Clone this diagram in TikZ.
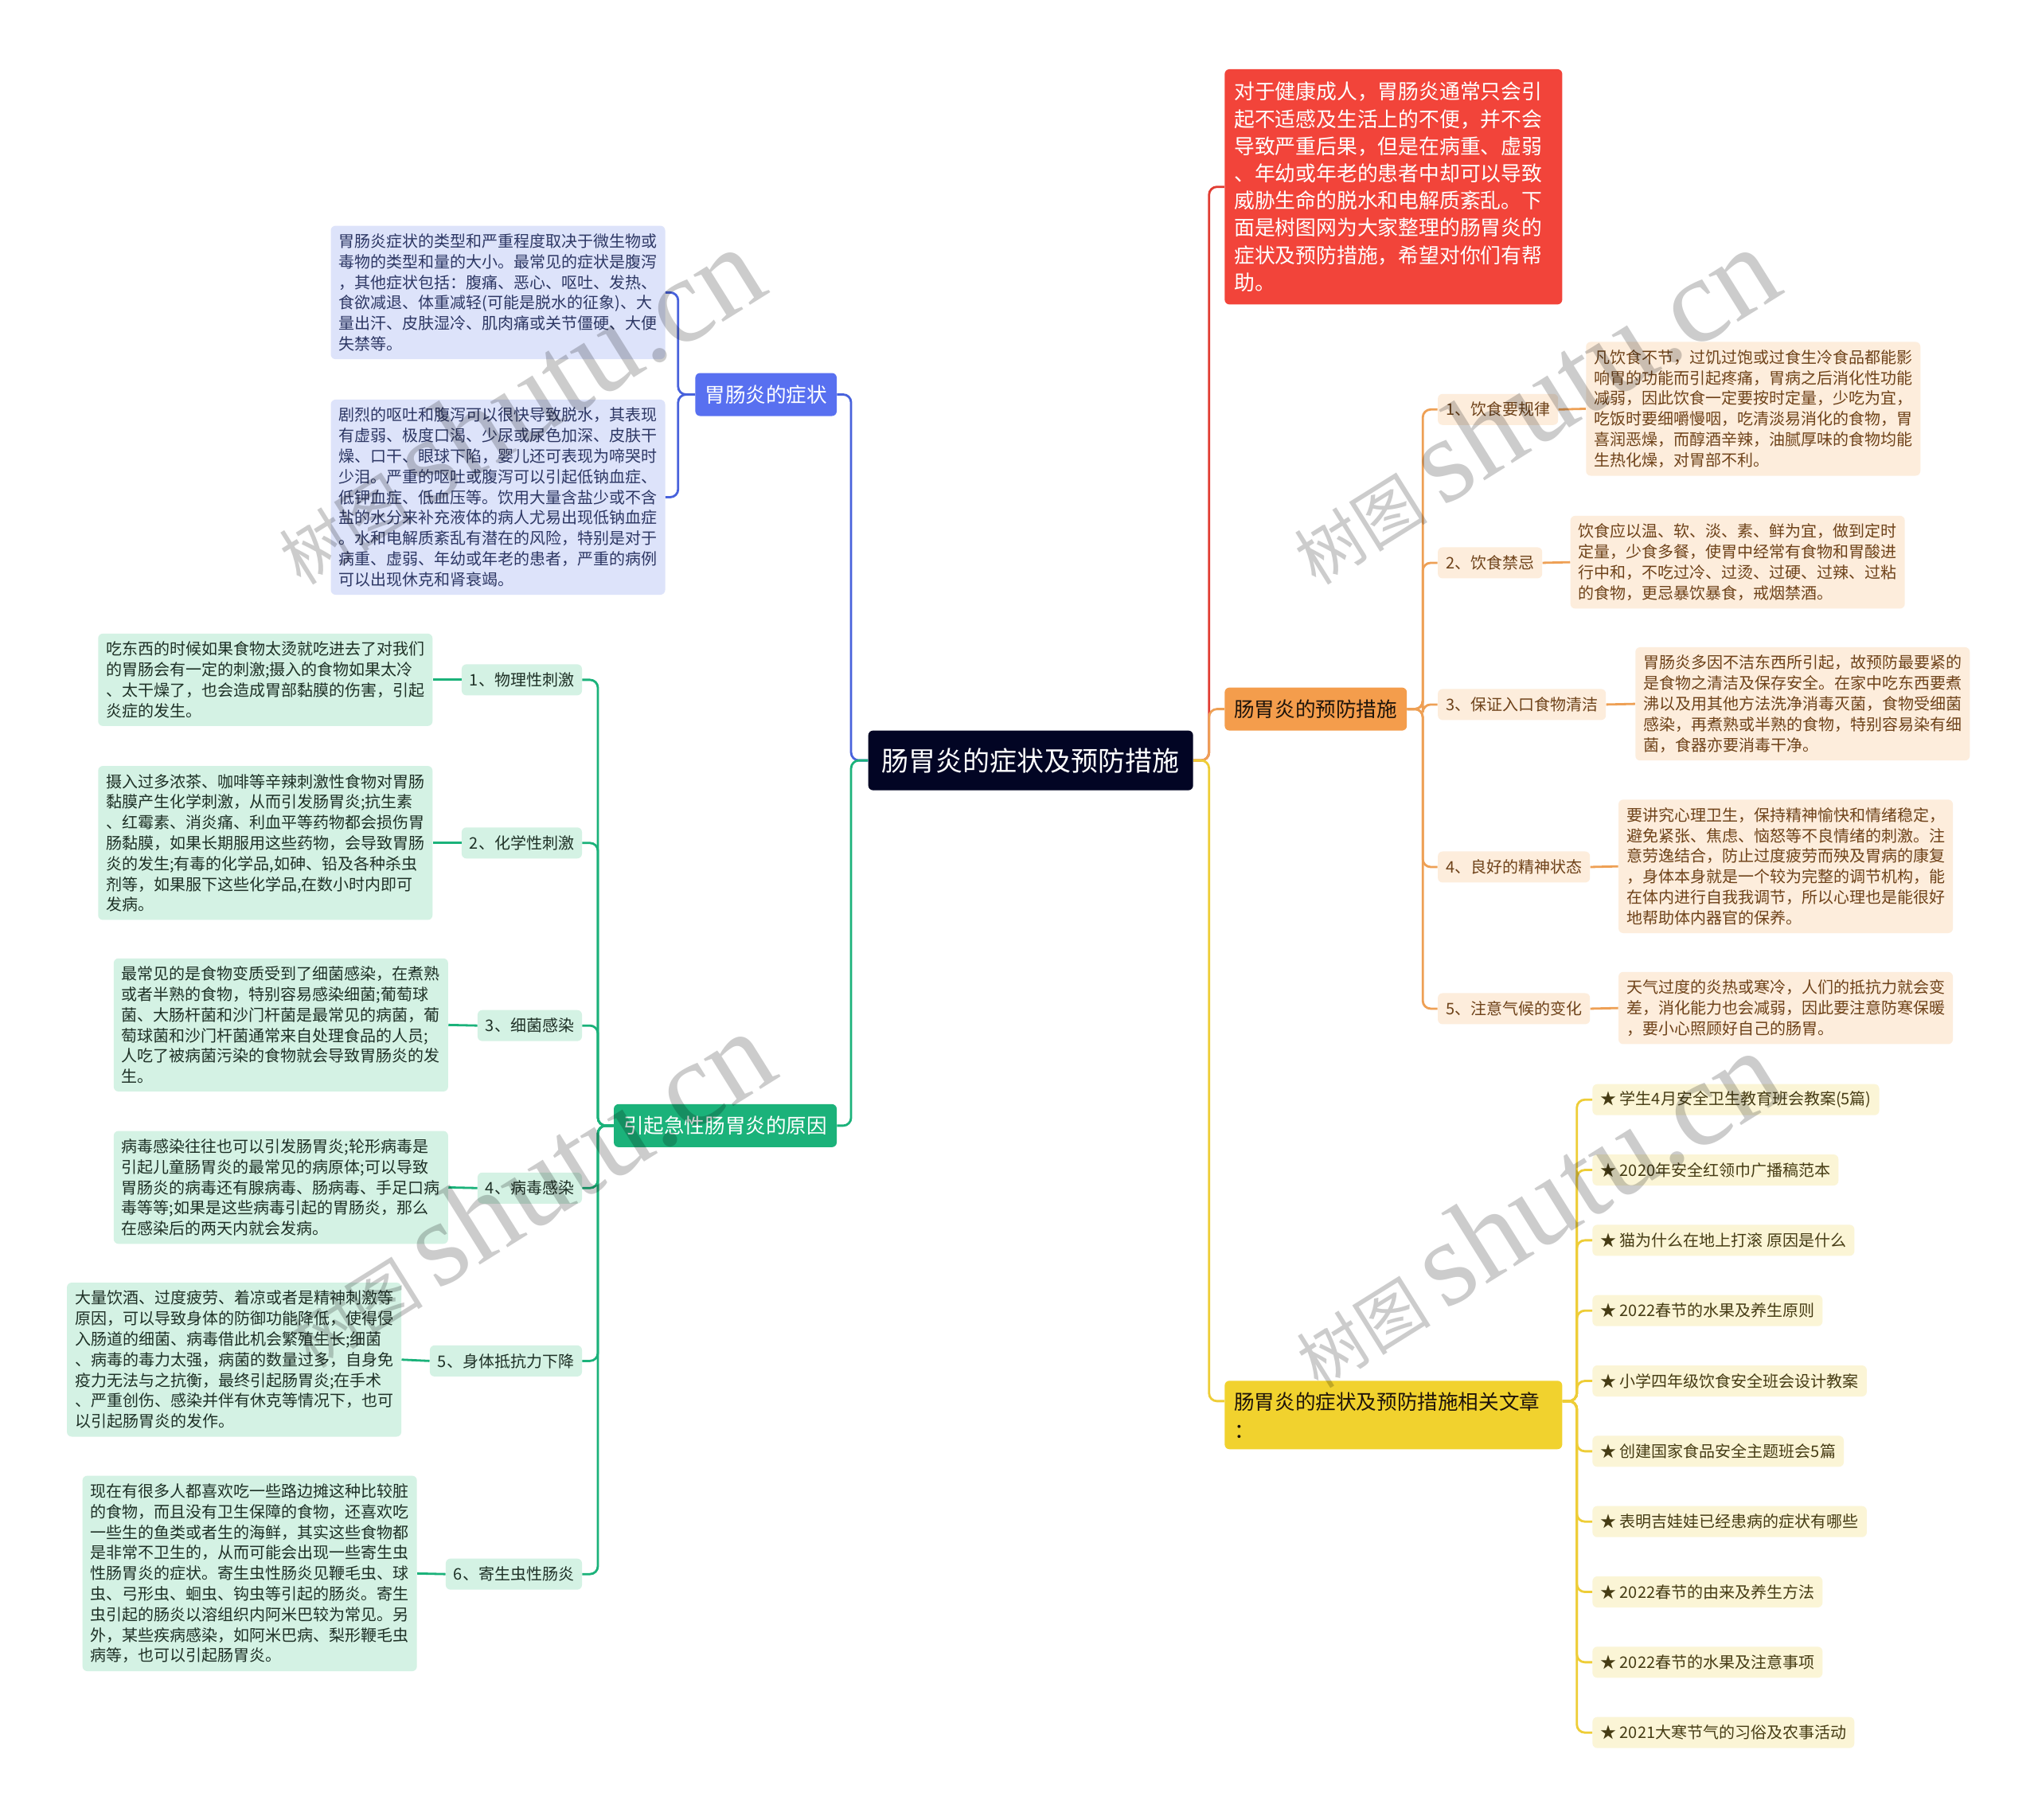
\documentclass[tikz,border=0pt]{standalone}
\usepackage{fontspec}
\setmainfont{Noto Sans CJK SC}
\newfontfamily\wmlatin{Liberation Serif}

\definecolor{topicbg}{RGB}{2,5,36}
\definecolor{symblue}{RGB}{88,112,240}
\definecolor{symline}{RGB}{72,98,220}
\definecolor{symleaf}{RGB}{221,227,250}
\definecolor{symtext}{RGB}{45,55,100}
\definecolor{causegreen}{RGB}{27,178,122}
\definecolor{causeleaf}{RGB}{212,242,228}
\definecolor{causetext}{RGB}{30,48,38}
\definecolor{introred}{RGB}{242,68,58}
\definecolor{introline}{RGB}{225,60,50}
\definecolor{prevorange}{RGB}{244,157,76}
\definecolor{prevline}{RGB}{238,160,85}
\definecolor{prevleaf}{RGB}{253,237,220}
\definecolor{prevtext}{RGB}{110,66,25}
\definecolor{relyellow}{RGB}{241,210,46}
\definecolor{relline}{RGB}{238,205,55}
\definecolor{relleaf}{RGB}{251,245,214}
\definecolor{reltext}{RGB}{70,60,20}

\tikzset{
  topic/.style={fill=topicbg,text=white,rounded corners=3pt,minimum width=204pt,
    minimum height=37.5pt,font=\fontsize{17}{20}\selectfont},
  branch/.style={rounded corners=3pt,inner xsep=6pt,minimum height=27pt,
    font=\fontsize{12.8}{16}\selectfont},
  leaf/.style={rounded corners=3pt,inner xsep=5pt,minimum height=19.5pt,
    font=\fontsize{10}{12}\selectfont},
  detail/.style={rounded corners=3pt,inner xsep=5pt,inner ysep=5pt,align=left,
    font=\fontsize{10}{12.9}\selectfont},
  link/.style={line width=1.4pt,rounded corners=5pt},
  wm/.style={text=black,text opacity=0.2,rotate=32,inner sep=0pt}
}

\begin{document}
\begin{tikzpicture}[x=0.8163pt,y=-0.8163pt]
\useasboundingbox (0,0) rectangle (1568,1400);
\fill[white] (0,0) rectangle (1568,1400);

% centre
\node[topic] (topic) at (793,585) {肠胃炎的症状及预防措施};

% left: symptoms
\node[branch,fill=symblue,text=white,anchor=east] (sym) at (644,303.5) {胃肠炎的症状};
\node[detail,fill=symleaf,text=symtext,anchor=east] (sym1) at (512,225) {胃肠炎症状的类型和严重程度取决于微生物或\\毒物的类型和量的大小。最常见的症状是腹泻\\，其他症状包括：腹痛、恶心、呕吐、发热、\\食欲减退、体重减轻(可能是脱水的征象)、大\\量出汗、皮肤湿冷、肌肉痛或关节僵硬、大便\\失禁等。};
\node[detail,fill=symleaf,text=symtext,anchor=east] (sym2) at (512,382.5) {剧烈的呕吐和腹泻可以很快导致脱水，其表现\\有虚弱、极度口渴、少尿或尿色加深、皮肤干\\燥、口干、眼球下陷，婴儿还可表现为啼哭时\\少泪。严重的呕吐或腹泻可以引起低钠血症、\\低钾血症、低血压等。饮用大量含盐少或不含\\盐的水分来补充液体的病人尤易出现低钠血症\\。水和电解质紊乱有潜在的风险，特别是对于\\病重、虚弱、年幼或年老的患者，严重的病例\\可以出现休克和肾衰竭。};

% left: causes
\node[branch,fill=causegreen,text=white,anchor=east] (cause) at (644,866) {引起急性肠胃炎的原因};
\node[leaf,fill=causeleaf,text=causetext,anchor=east] (c1) at (448,523) {1、物理性刺激};
\node[leaf,fill=causeleaf,text=causetext,anchor=east] (c2) at (448,648.5) {2、化学性刺激};
\node[leaf,fill=causeleaf,text=causetext,anchor=east] (c3) at (448,789) {3、细菌感染};
\node[leaf,fill=causeleaf,text=causetext,anchor=east] (c4) at (448,914) {4、病毒感染};
\node[leaf,fill=causeleaf,text=causetext,anchor=east] (c5) at (448,1047) {5、身体抵抗力下降};
\node[leaf,fill=causeleaf,text=causetext,anchor=east] (c6) at (448,1211) {6、寄生虫性肠炎};
\node[detail,fill=causeleaf,text=causetext,anchor=east] (c1d) at (333,523) {吃东西的时候如果食物太烫就吃进去了对我们\\的胃肠会有一定的刺激;摄入的食物如果太冷\\、太干燥了，也会造成胃部黏膜的伤害，引起\\炎症的发生。};
\node[detail,fill=causeleaf,text=causetext,anchor=east] (c2d) at (333,648.5) {摄入过多浓茶、咖啡等辛辣刺激性食物对胃肠\\黏膜产生化学刺激，从而引发肠胃炎;抗生素\\、红霉素、消炎痛、利血平等药物都会损伤胃\\肠黏膜，如果长期服用这些药物，会导致胃肠\\炎的发生;有毒的化学品,如砷、铅及各种杀虫\\剂等，如果服下这些化学品,在数小时内即可\\发病。};
\node[detail,fill=causeleaf,text=causetext,anchor=east] (c3d) at (345,788.5) {最常见的是食物变质受到了细菌感染，在煮熟\\或者半熟的食物，特别容易感染细菌;葡萄球\\菌、大肠杆菌和沙门杆菌是最常见的病菌，葡\\萄球菌和沙门杆菌通常来自处理食品的人员;\\人吃了被病菌污染的食物就会导致胃肠炎的发\\生。};
\node[detail,fill=causeleaf,text=causetext,anchor=east] (c4d) at (345,913.5) {病毒感染往往也可以引发肠胃炎;轮形病毒是\\引起儿童肠胃炎的最常见的病原体;可以导致\\胃肠炎的病毒还有腺病毒、肠病毒、手足口病\\毒等等;如果是这些病毒引起的胃肠炎，那么\\在感染后的两天内就会发病。};
\node[detail,fill=causeleaf,text=causetext,anchor=east] (c5d) at (309,1046) {大量饮酒、过度疲劳、着凉或者是精神刺激等\\原因，可以导致身体的防御功能降低，使得侵\\入肠道的细菌、病毒借此机会繁殖生长;细菌\\、病毒的毒力太强，病菌的数量过多，自身免\\疫力无法与之抗衡，最终引起肠胃炎;在手术\\、严重创伤、感染并伴有休克等情况下，也可\\以引起肠胃炎的发作。};
\node[detail,fill=causeleaf,text=causetext,anchor=east] (c6d) at (321,1210.5) {现在有很多人都喜欢吃一些路边摊这种比较脏\\的食物，而且没有卫生保障的食物，还喜欢吃\\一些生的鱼类或者生的海鲜，其实这些食物都\\是非常不卫生的，从而可能会出现一些寄生虫\\性肠胃炎的症状。寄生虫性肠炎见鞭毛虫、球\\虫、弓形虫、蛔虫、钩虫等引起的肠炎。寄生\\虫引起的肠炎以溶组织内阿米巴较为常见。另\\外，某些疾病感染，如阿米巴病、梨形鞭毛虫\\病等，也可以引起肠胃炎。};

% right: intro
\node[fill=introred,text=white,rounded corners=3pt,inner xsep=6pt,inner ysep=8pt,
  text width=200pt,align=left,font=\fontsize{12.9}{17.1}\selectfont,anchor=north west]
  (intro) at (942,53) {对于健康成人，胃肠炎通常只会引\\起不适感及生活上的不便，并不会\\导致严重后果，但是在病重、虚弱\\、年幼或年老的患者中却可以导致\\威胁生命的脱水和电解质紊乱。下\\面是树图网为大家整理的肠胃炎的\\症状及预防措施，希望对你们有帮\\助。};

% right: prevention
\node[branch,fill=prevorange,text=black!85!brown,anchor=west] (prev) at (942,545.5) {肠胃炎的预防措施};
\node[leaf,fill=prevleaf,text=prevtext,anchor=west] (p1) at (1106,315) {1、饮食要规律};
\node[leaf,fill=prevleaf,text=prevtext,anchor=west] (p2) at (1106,433) {2、饮食禁忌};
\node[leaf,fill=prevleaf,text=prevtext,anchor=west] (p3) at (1106,542) {3、保证入口食物清洁};
\node[leaf,fill=prevleaf,text=prevtext,anchor=west] (p4) at (1106,667) {4、良好的精神状态};
\node[leaf,fill=prevleaf,text=prevtext,anchor=west] (p5) at (1106,776) {5、注意气候的变化};
\node[detail,fill=prevleaf,text=prevtext,anchor=west] (p1d) at (1220,314.5) {凡饮食不节，过饥过饱或过食生冷食品都能影\\响胃的功能而引起疼痛，胃病之后消化性功能\\减弱，因此饮食一定要按时定量，少吃为宜，\\吃饭时要细嚼慢咽，吃清淡易消化的食物，胃\\喜润恶燥，而醇酒辛辣，油腻厚味的食物均能\\生热化燥，对胃部不利。};
\node[detail,fill=prevleaf,text=prevtext,anchor=west] (p2d) at (1208,432.5) {饮食应以温、软、淡、素、鲜为宜，做到定时\\定量，少食多餐，使胃中经常有食物和胃酸进\\行中和，不吃过冷、过烫、过硬、过辣、过粘\\的食物，更忌暴饮暴食，戒烟禁酒。};
\node[detail,fill=prevleaf,text=prevtext,anchor=west] (p3d) at (1258,541.5) {胃肠炎多因不洁东西所引起，故预防最要紧的\\是食物之清洁及保存安全。在家中吃东西要煮\\沸以及用其他方法洗净消毒灭菌，食物受细菌\\感染，再煮熟或半熟的食物，特别容易染有细\\菌，食器亦要消毒干净。};
\node[detail,fill=prevleaf,text=prevtext,anchor=west] (p4d) at (1245,666.5) {要讲究心理卫生，保持精神愉快和情绪稳定，\\避免紧张、焦虑、恼怒等不良情绪的刺激。注\\意劳逸结合，防止过度疲劳而殃及胃病的康复\\，身体本身就是一个较为完整的调节机构，能\\在体内进行自我我调节，所以心理也是能很好\\地帮助体内器官的保养。};
\node[detail,fill=prevleaf,text=prevtext,anchor=west] (p5d) at (1245,775.5) {天气过度的炎热或寒冷，人们的抵抗力就会变\\差，消化能力也会减弱，因此要注意防寒保暖\\，要小心照顾好自己的肠胃。};

% right: related articles
\node[fill=relyellow,text=black!85!brown,rounded corners=3pt,inner xsep=6pt,inner ysep=7pt,
  text width=200pt,align=left,font=\fontsize{12.8}{18}\selectfont,anchor=north west]
  (rel) at (942,1062) {肠胃炎的症状及预防措施相关文章\\：};
\coordinate (relin) at ([yshift=-13pt]rel.north west);
\coordinate (relout) at ([yshift=-13pt]rel.north east);
\foreach \t [count=\i] in {学生4月安全卫生教育班会教案(5篇),2020年安全红领巾广播稿范本,
  猫为什么在地上打滚 原因是什么,2022春节的水果及养生原则,小学四年级饮食安全班会设计教案,
  创建国家食品安全主题班会5篇,表明吉娃娃已经患病的症状有哪些,2022春节的由来及养生方法,
  2022春节的水果及注意事项,2021大寒节气的习俗及农事活动}
  \node[leaf,fill=relleaf,text=reltext,anchor=west] (art\i) at (1225,{846+54.1*(\i-1)}) {★ \t};

% connectors
\draw[link,symline] (topic.west) -- ++(-13,0) |- (sym.east);
\draw[link,causegreen] (topic.west) -- ++(-13,0) |- (cause.east);
\draw[link,introline] (topic.east) -- ++(12,0) |- (intro.west);
\draw[link,prevline] (topic.east) -- ++(12,0) |- (prev.west);
\draw[link,relline] (topic.east) -- ++(12,0) |- (relin);
\draw[link,symline] (sym.west) -- ++(-13,0) |- (sym1.east);
\draw[link,symline] (sym.west) -- ++(-13,0) |- (sym2.east);
\foreach \i in {1,...,6}{
  \draw[link,causegreen] (cause.west) -- ++(-12,0) |- (c\i.east);
  \draw[link,causegreen] (c\i.west) -- (c\i d.east);
}
\foreach \i in {1,...,5}{
  \draw[link,prevline] (prev.east) -- ++(12,0) |- (p\i.west);
  \draw[link,prevline] (p\i.east) -- (p\i d.west);
}
\foreach \i in {1,...,10}
  \draw[link,relline] (relout) -- ++(11,0) |- (art\i.west);

% watermarks
\node[wm] at (397,312) {\fontsize{42}{42}\selectfont 树图 {\wmlatin\fontsize{76}{76}\selectfont shutu.cn}};
\node[wm] at (1178,312) {\fontsize{42}{42}\selectfont 树图 {\wmlatin\fontsize{76}{76}\selectfont shutu.cn}};
\node[wm] at (405,915) {\fontsize{42}{42}\selectfont 树图 {\wmlatin\fontsize{76}{76}\selectfont shutu.cn}};
\node[wm] at (1180,930) {\fontsize{42}{42}\selectfont 树图 {\wmlatin\fontsize{76}{76}\selectfont shutu.cn}};
\end{tikzpicture}
\end{document}
